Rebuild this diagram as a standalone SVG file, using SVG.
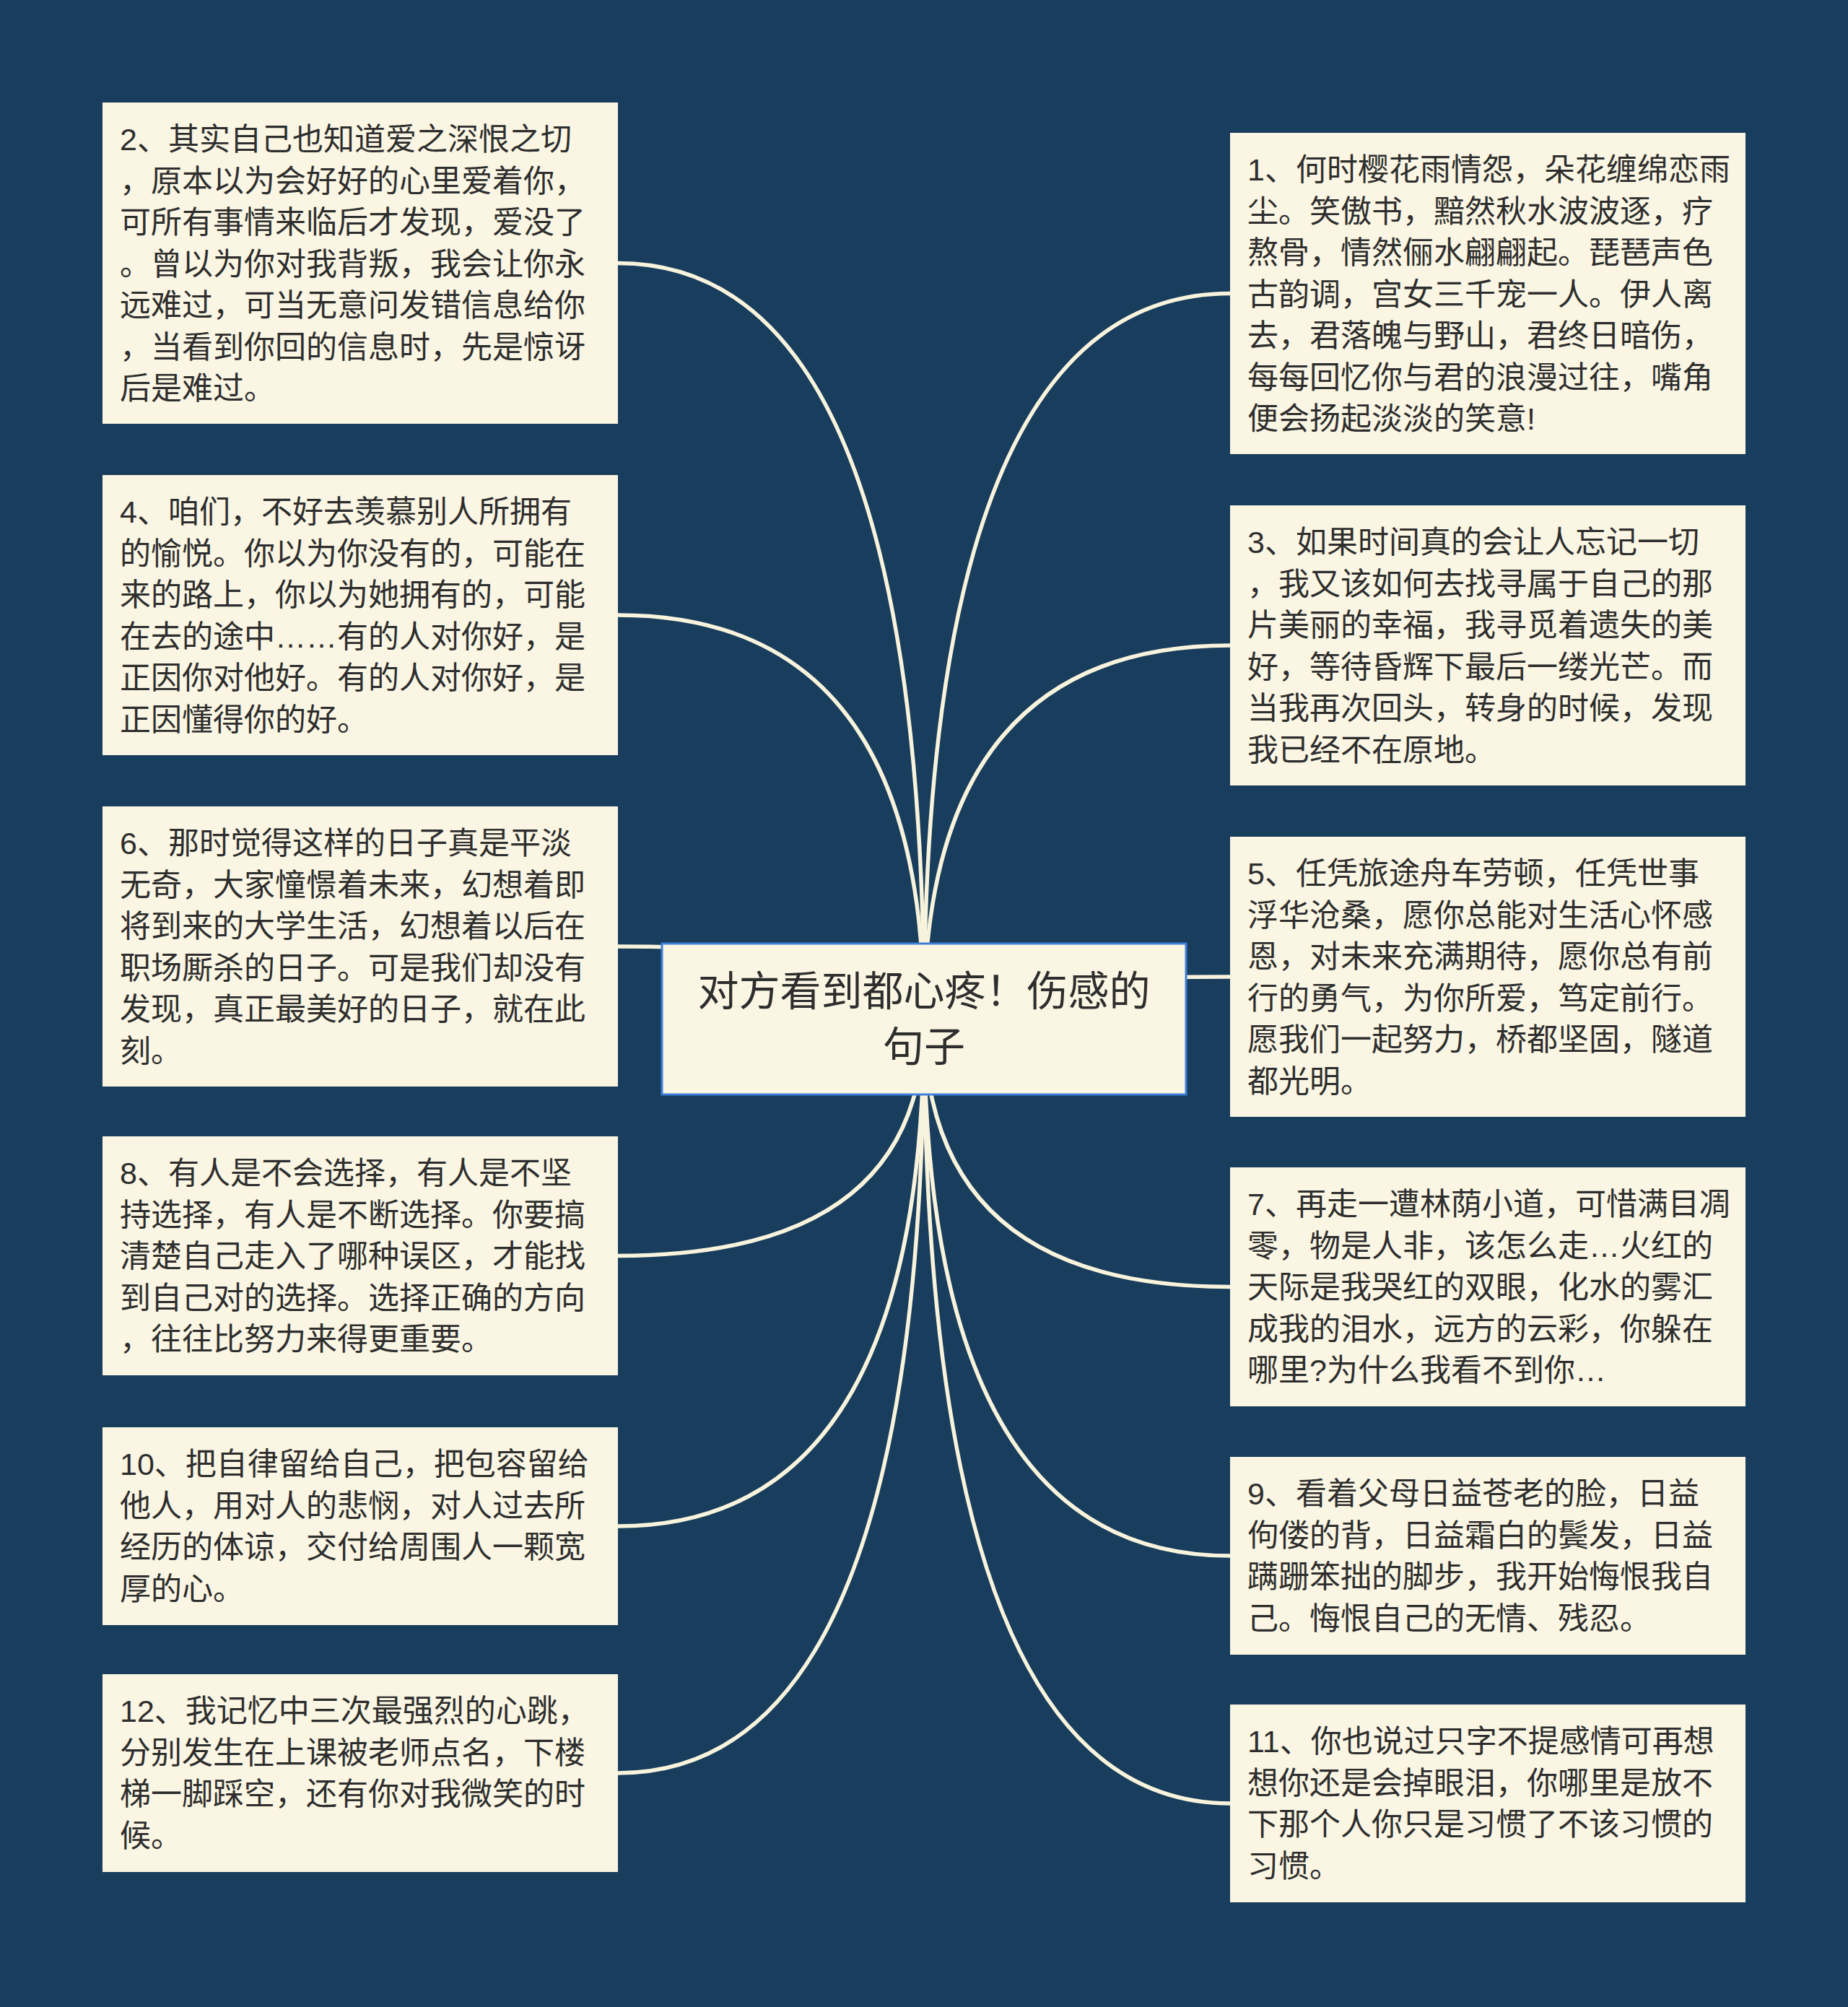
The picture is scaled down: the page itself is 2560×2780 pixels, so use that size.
<svg xmlns="http://www.w3.org/2000/svg" width="2560" height="2780" viewBox="0 0 2560 2780">
<style>
.bg{fill:#183d5d}
.box{fill:#faf6e3}
.root{fill:#faf6e3;stroke:#3f7fd8;stroke-width:3}
.t{font-family:'Liberation Sans','Noto Sans CJK SC',sans-serif;font-size:43px;fill:#2e2e2e}
.rt{font-family:'Liberation Sans','Noto Sans CJK SC',sans-serif;font-size:57px;fill:#2e2e2e;text-anchor:middle}
.c{fill:none;stroke:#f8f3dc;stroke-width:5.5}
</style>
<rect class="bg" x="0" y="0" width="2560" height="2780"/>
<g id="connectors">
<path class="c" d="M1280 1411 Q1280 364.5 856 364.5"/>
<path class="c" d="M1280 1411 Q1280 852 856 852"/>
<path class="c" d="M1280 1411 Q1280 1311 856 1311"/>
<path class="c" d="M1280 1411 Q1280 1739.5 856 1739.5"/>
<path class="c" d="M1280 1411 Q1280 2114 856 2114"/>
<path class="c" d="M1280 1411 Q1280 2456 856 2456"/>
<path class="c" d="M1280 1411 Q1280 406.5 1704 406.5"/>
<path class="c" d="M1280 1411 Q1280 894 1704 894"/>
<path class="c" d="M1280 1411 Q1280 1353 1704 1353"/>
<path class="c" d="M1280 1411 Q1280 1782.5 1704 1782.5"/>
<path class="c" d="M1280 1411 Q1280 2155 1704 2155"/>
<path class="c" d="M1280 1411 Q1280 2498 1704 2498"/>
</g>
<g id="root">
<rect class="root" x="917" y="1307" width="726" height="209"/>
<text class="rt"><tspan x="1280" y="1393">对方看到都心疼！伤感的</tspan><tspan x="1280" y="1470">句子</tspan></text>
</g>
<g id="n2">
<rect class="box" x="142" y="142" width="714" height="445"/>
<text class="t"><tspan x="166" y="208">2、其实自己也知道爱之深恨之切</tspan><tspan x="166" y="265.5">，原本以为会好好的心里爱着你，</tspan><tspan x="166" y="323">可所有事情来临后才发现，爱没了</tspan><tspan x="166" y="380.5">。曾以为你对我背叛，我会让你永</tspan><tspan x="166" y="438">远难过，可当无意问发错信息给你</tspan><tspan x="166" y="495.5">，当看到你回的信息时，先是惊讶</tspan><tspan x="166" y="553">后是难过。</tspan></text>
</g>
<g id="n4">
<rect class="box" x="142" y="658" width="714" height="388"/>
<text class="t"><tspan x="166" y="724">4、咱们，不好去羡慕别人所拥有</tspan><tspan x="166" y="781.5">的愉悦。你以为你没有的，可能在</tspan><tspan x="166" y="839">来的路上，你以为她拥有的，可能</tspan><tspan x="166" y="896.5">在去的途中……有的人对你好，是</tspan><tspan x="166" y="954">正因你对他好。有的人对你好，是</tspan><tspan x="166" y="1011.5">正因懂得你的好。</tspan></text>
</g>
<g id="n6">
<rect class="box" x="142" y="1117" width="714" height="388"/>
<text class="t"><tspan x="166" y="1183">6、那时觉得这样的日子真是平淡</tspan><tspan x="166" y="1240.5">无奇，大家憧憬着未来，幻想着即</tspan><tspan x="166" y="1298">将到来的大学生活，幻想着以后在</tspan><tspan x="166" y="1355.5">职场厮杀的日子。可是我们却没有</tspan><tspan x="166" y="1413">发现，真正最美好的日子，就在此</tspan><tspan x="166" y="1470.5">刻。</tspan></text>
</g>
<g id="n8">
<rect class="box" x="142" y="1574" width="714" height="331"/>
<text class="t"><tspan x="166" y="1640">8、有人是不会选择，有人是不坚</tspan><tspan x="166" y="1697.5">持选择，有人是不断选择。你要搞</tspan><tspan x="166" y="1755">清楚自己走入了哪种误区，才能找</tspan><tspan x="166" y="1812.5">到自己对的选择。选择正确的方向</tspan><tspan x="166" y="1870">，往往比努力来得更重要。</tspan></text>
</g>
<g id="n10">
<rect class="box" x="142" y="1977" width="714" height="274"/>
<text class="t"><tspan x="166" y="2043">10、把自律留给自己，把包容留给</tspan><tspan x="166" y="2100.5">他人，用对人的悲悯，对人过去所</tspan><tspan x="166" y="2158">经历的体谅，交付给周围人一颗宽</tspan><tspan x="166" y="2215.5">厚的心。</tspan></text>
</g>
<g id="n12">
<rect class="box" x="142" y="2319" width="714" height="274"/>
<text class="t"><tspan x="166" y="2385">12、我记忆中三次最强烈的心跳，</tspan><tspan x="166" y="2442.5">分别发生在上课被老师点名，下楼</tspan><tspan x="166" y="2500">梯一脚踩空，还有你对我微笑的时</tspan><tspan x="166" y="2557.5">候。</tspan></text>
</g>
<g id="n1">
<rect class="box" x="1704" y="184" width="714" height="445"/>
<text class="t"><tspan x="1728" y="250">1、何时樱花雨情怨，朵花缠绵恋雨</tspan><tspan x="1728" y="307.5">尘。笑傲书，黯然秋水波波逐，疗</tspan><tspan x="1728" y="365">熬骨，情然俪水翩翩起。琵琶声色</tspan><tspan x="1728" y="422.5">古韵调，宫女三千宠一人。伊人离</tspan><tspan x="1728" y="480">去，君落魄与野山，君终日暗伤，</tspan><tspan x="1728" y="537.5">每每回忆你与君的浪漫过往，嘴角</tspan><tspan x="1728" y="595">便会扬起淡淡的笑意!</tspan></text>
</g>
<g id="n3">
<rect class="box" x="1704" y="700" width="714" height="388"/>
<text class="t"><tspan x="1728" y="766">3、如果时间真的会让人忘记一切</tspan><tspan x="1728" y="823.5">，我又该如何去找寻属于自己的那</tspan><tspan x="1728" y="881">片美丽的幸福，我寻觅着遗失的美</tspan><tspan x="1728" y="938.5">好，等待昏辉下最后一缕光芒。而</tspan><tspan x="1728" y="996">当我再次回头，转身的时候，发现</tspan><tspan x="1728" y="1053.5">我已经不在原地。</tspan></text>
</g>
<g id="n5">
<rect class="box" x="1704" y="1159" width="714" height="388"/>
<text class="t"><tspan x="1728" y="1225">5、任凭旅途舟车劳顿，任凭世事</tspan><tspan x="1728" y="1282.5">浮华沧桑，愿你总能对生活心怀感</tspan><tspan x="1728" y="1340">恩，对未来充满期待，愿你总有前</tspan><tspan x="1728" y="1397.5">行的勇气，为你所爱，笃定前行。</tspan><tspan x="1728" y="1455">愿我们一起努力，桥都坚固，隧道</tspan><tspan x="1728" y="1512.5">都光明。</tspan></text>
</g>
<g id="n7">
<rect class="box" x="1704" y="1617" width="714" height="331"/>
<text class="t"><tspan x="1728" y="1683">7、再走一遭林荫小道，可惜满目凋</tspan><tspan x="1728" y="1740.5">零，物是人非，该怎么走…火红的</tspan><tspan x="1728" y="1798">天际是我哭红的双眼，化水的雾汇</tspan><tspan x="1728" y="1855.5">成我的泪水，远方的云彩，你躲在</tspan><tspan x="1728" y="1913">哪里?为什么我看不到你…</tspan></text>
</g>
<g id="n9">
<rect class="box" x="1704" y="2018" width="714" height="274"/>
<text class="t"><tspan x="1728" y="2084">9、看着父母日益苍老的脸，日益</tspan><tspan x="1728" y="2141.5">佝偻的背，日益霜白的鬓发，日益</tspan><tspan x="1728" y="2199">蹒跚笨拙的脚步，我开始悔恨我自</tspan><tspan x="1728" y="2256.5">己。悔恨自己的无情、残忍。</tspan></text>
</g>
<g id="n11">
<rect class="box" x="1704" y="2361" width="714" height="274"/>
<text class="t"><tspan x="1728" y="2427">11、你也说过只字不提感情可再想</tspan><tspan x="1728" y="2484.5">想你还是会掉眼泪，你哪里是放不</tspan><tspan x="1728" y="2542">下那个人你只是习惯了不该习惯的</tspan><tspan x="1728" y="2599.5">习惯。</tspan></text>
</g>
</svg>
